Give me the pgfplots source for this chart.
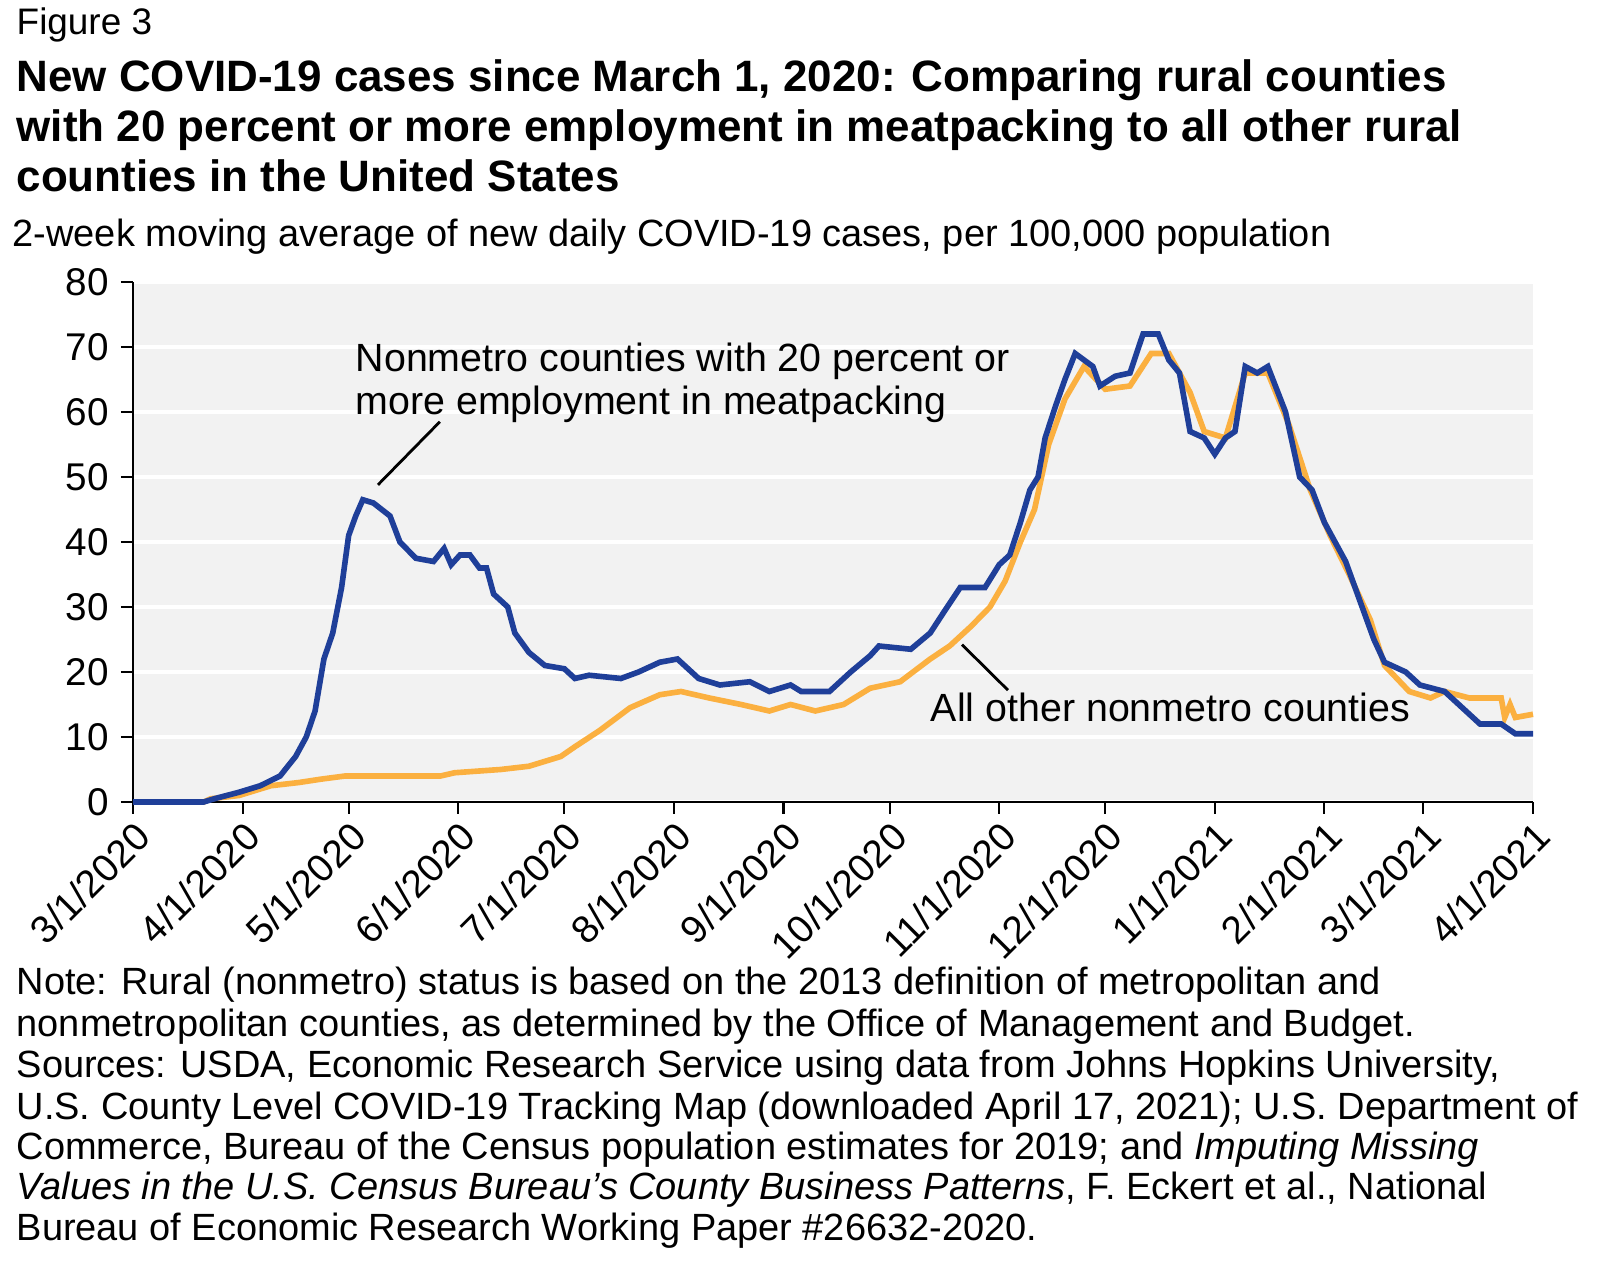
\documentclass[border=0pt]{standalone}
\usepackage{pgfplots}
\pgfplotsset{compat=1.18}
\usepackage{fontspec}
\setmainfont{Liberation Sans}
\definecolor{cblue}{HTML}{1F3F99}
\definecolor{corange}{HTML}{FBB040}
\begin{document}
\begin{tikzpicture}[x=1mm,y=1mm]
\node[anchor=base west,inner sep=0,font=\fontsize{10.5}{12}\selectfont] at (1.6,125.3) {Figure 3};
\begin{scope}[every node/.style={anchor=base west,inner sep=0,font=\fontsize{12.5}{14}\selectfont\bfseries}]
\node at (1.6,119.6) {New COVID-19 cases since March 1, 2020: Comparing rural counties};
\node at (1.6,114.6) {with 20 percent or more employment in meatpacking to all other rural};
\node at (1.6,109.6) {counties in the United States};
\end{scope}
\node[anchor=base west,inner sep=0,font=\fontsize{10.8}{13}\selectfont] at (1.2,104.1) {2-week moving average of new daily COVID-19 cases, per 100,000 population};
\begin{scope}[every node/.style={anchor=base west,inner sep=0,font=\fontsize{10.8}{13}\selectfont}]
\node at (1.6,29.3) {Note: Rural (nonmetro) status is based on the 2013 definition of metropolitan and};
\node at (1.6,25.1) {nonmetropolitan counties, as determined by the Office of Management and Budget.};
\node at (1.6,21.0) {Sources: USDA, Economic Research Service using data from Johns Hopkins University,};
\node at (1.6,16.8) {U.S. County Level COVID-19 Tracking Map (downloaded April 17, 2021); U.S. Department of};
\node at (1.6,12.8) {Commerce, Bureau of the Census population estimates for 2019; and \textit{Imputing Missing}};
\node at (1.6,8.8) {\textit{Values in the U.S. Census Bureau’s County Business Patterns}, F. Eckert et al., National};
\node at (1.6,4.7) {Bureau of Economic Research Working Paper \#26632-2020.};
\end{scope}
\begin{axis}[at={(13.3mm,48.6mm)},anchor=south west,scale only axis,width=140mm,height=52mm,
 xmin=0,xmax=396,ymin=0,ymax=80,
 axis background/.style={fill=black!5},
 axis x line*=bottom, axis y line*=left,
 axis line style={black,line width=0.6pt},
 ytick={0,10,...,80}, ymajorgrids, grid style={white,line width=1pt},
 xtick={0,31,61,92,122,153,184,214,245,275,306,337,365,396},
 xticklabels={3/1/2020,4/1/2020,5/1/2020,6/1/2020,7/1/2020,8/1/2020,9/1/2020,10/1/2020,11/1/2020,12/1/2020,1/1/2021,2/1/2021,3/1/2021,4/1/2021},
 xticklabel style={rotate=45,anchor=north east,inner sep=1pt},
 tick style={black,line width=0.6pt}, tick align=outside, major tick length=1.2mm,
 ticklabel style={font=\fontsize{11}{13}\selectfont},
 /pgf/number format/assume math mode=true,
 clip=false]
\addplot[corange,line width=1.6pt] coordinates {
(0,0)(20,0)(22,0.5)(30,1)(39,2.5)(47,3)(53,3.5)(60,4)(87,4)(91,4.5)(104,5)(112,5.5)(121,7)(125,8.5)(132,11)(140.6,14.5)(149,16.5)(155,17)(163,16)(172,15)(180,14)(186,15)(193,14)(201,15)(208.5,17.5)(217,18.5)(225.5,22)(231,24)(237,27)(242.4,30)(246.7,34)(251,40)(255,45)(259,55)(263.6,62)(269,67)(275,63.5)(282,64)(288,69)(293,69)(299,63)(303,57)(309,56)(314.6,66)(321,66)(327,58)(333,48)(338.6,41)(344,35)(350,28)(354,21)(361,17)(367,16)(371,17)(378,16)(387,16)(388,13)(389.5,15)(391,13)(396,13.5)};
\addplot[cblue,line width=1.6pt] coordinates {
(0,0)(20,0)(23,0.5)(30,1.5)(36,2.5)(41.6,4)(46,7)(49,10)(51.5,14)(54,22)(56.5,26)(59,33)(61,41)(63,44)(65,46.5)(68,46)(72.7,44)(75.5,40)(80,37.5)(85,37)(88,39)(90,36.5)(92.5,38)(95.3,38)(98,36)(100,36)(102,32)(106,30)(108,26)(112,23)(116.5,21)(122,20.5)(125,19)(129,19.5)(138,19)(143,20)(149,21.5)(154,22)(160,19)(166,18)(174.5,18.5)(180,17)(186,18)(189,17)(197,17)(203,20)(208.5,22.5)(211,24)(220,23.5)(225.5,26)(229.7,29.5)(234,33)(241,33)(245,36.5)(248,38)(251,43)(253.7,48)(256,50)(258,56)(261,61)(263.6,65)(266.5,69)(269,68)(271.5,67)(273.5,64)(277.8,65.5)(282,66)(285.7,72)(290,72)(293,68)(296,66)(299,57)(303,56)(306,53.5)(309,56)(311.7,57)(314.6,67)(318,66)(321,67)(326,60)(330,50)(333.5,48)(337,43)(343,37)(347,31)(351,25)(354,21.5)(360,20)(364,18)(371,17)(377,14)(381,12)(387,12)(391,10.5)(396,10.5)};
\draw[black,line width=0.8pt] (axis cs:69.3,48.8) -- (axis cs:86.8,58.5);
\draw[black,line width=0.8pt] (axis cs:234.5,24.2) -- (axis cs:247.5,17.2);
\node[anchor=north west,inner sep=0,align=left,font=\fontsize{11.2}{12.5}\selectfont] at (axis cs:62.8,70.8) {Nonmetro counties with 20 percent or\\more employment in meatpacking};
\node[anchor=west,inner sep=0,font=\fontsize{11.2}{13}\selectfont] at (axis cs:225.5,14.5) {All other nonmetro counties};
\end{axis}
\pgfresetboundingbox
\useasboundingbox (0,0) rectangle (161,128.8);
\end{tikzpicture}
\end{document}
